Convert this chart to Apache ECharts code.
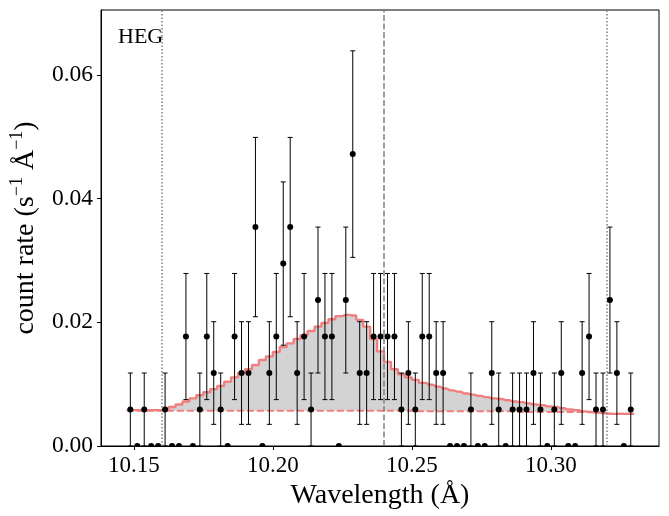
<!DOCTYPE html>
<html>
<head>
<meta charset="utf-8">
<script src="https://cdn.jsdelivr.net/npm/echarts@6.0.0/dist/echarts.min.js"></script>
<style>
  html, body { margin: 0; padding: 0; background: #fff; }
  #chart { width: 669px; height: 516px; }
</style>
</head>
<body>
<div id="chart"></div>
<script>
// bin centres (Å), 0.0025 Å bins
var wave = [
  10.14875, 10.15125, 10.15375, 10.15625, 10.15875, 10.16125, 10.16375, 10.16625, 10.16875, 10.17125,
  10.17375, 10.17625, 10.17875, 10.18125, 10.18375, 10.18625, 10.18875, 10.19125, 10.19375, 10.19625,
  10.19875, 10.20125, 10.20375, 10.20625, 10.20875, 10.21125, 10.21375, 10.21625, 10.21875, 10.22125,
  10.22375, 10.22625, 10.22875, 10.23125, 10.23375, 10.23625, 10.23875, 10.24125, 10.24375, 10.24625,
  10.24875, 10.25125, 10.25375, 10.25625, 10.25875, 10.26125, 10.26375, 10.26625, 10.26875, 10.27125,
  10.27375, 10.27625, 10.27875, 10.28125, 10.28375, 10.28625, 10.28875, 10.29125, 10.29375, 10.29625,
  10.29875, 10.30125, 10.30375, 10.30625, 10.30875, 10.31125, 10.31375, 10.31625, 10.31875, 10.32125,
  10.32375, 10.32625, 10.32875
];
var waveLo = 10.1475, waveHi = 10.33;

// measured count rate and 1-sigma error
var rate = [
  0.0059, 0, 0.0059, 0, 0, 0.0059, 0, 0, 0.0177, 0,
  0.0059, 0.0177, 0.0118, 0.0059, 0, 0.0177, 0.0118, 0.0118, 0.0354, 0,
  0.0118, 0.0177, 0.0295, 0.0354, 0.0118, 0.0177, 0.0059, 0.0236, 0.0177, 0.0177,
  0, 0.0236, 0.0472, 0.0118, 0.0118, 0.0177, 0.0177, 0.0177, 0.0177, 0.0059,
  0.0118, 0.0059, 0.0177, 0.0177, 0.0118, 0.0118, 0, 0, 0, 0.0059,
  0, 0, 0.0118, 0.0059, 0, 0.0059, 0.0059, 0.0059, 0.0118, 0.0059,
  0, 0.0059, 0.0118, 0, 0, 0.0118, 0.0177, 0.0059, 0.0059, 0.0236,
  0.0118, 0, 0.0059
];
var rateErr = [
  0.0059, 0, 0.0059, 0, 0, 0.0059, 0, 0, 0.0102, 0,
  0.0059, 0.0102, 0.0083, 0.0059, 0, 0.0102, 0.0083, 0.0083, 0.0145, 0,
  0.0083, 0.0102, 0.0132, 0.0145, 0.0083, 0.0102, 0.0059, 0.0118, 0.0102, 0.0102,
  0, 0.0118, 0.0167, 0.0083, 0.0083, 0.0102, 0.0102, 0.0102, 0.0102, 0.0059,
  0.0083, 0.0059, 0.0102, 0.0102, 0.0083, 0.0083, 0, 0, 0, 0.0059,
  0, 0, 0.0083, 0.0059, 0, 0.0059, 0.0059, 0.0059, 0.0083, 0.0059,
  0, 0.0059, 0.0083, 0, 0, 0.0083, 0.0102, 0.0059, 0.0059, 0.0118,
  0.0083, 0, 0.0059
];

// total model and continuum
var model = [
  0.0058, 0.0058, 0.0058, 0.0058, 0.0058, 0.0059, 0.0063, 0.0067, 0.0072, 0.0077,
  0.0082, 0.0087, 0.0092, 0.0097, 0.0104, 0.0111, 0.0118, 0.0124, 0.0131, 0.0139,
  0.0145, 0.0152, 0.0160, 0.0166, 0.0173, 0.0179, 0.0186, 0.0193, 0.0199, 0.0205,
  0.0210, 0.0212, 0.0211, 0.0204, 0.0193, 0.0173, 0.0153, 0.0136, 0.0124, 0.0116,
  0.0111, 0.0107, 0.0102, 0.0099, 0.0096, 0.0093, 0.0090, 0.0088, 0.0085, 0.0083,
  0.0081, 0.0079, 0.0077, 0.0076, 0.0074, 0.0072, 0.0071, 0.0069, 0.0067, 0.0066,
  0.0064, 0.0063, 0.0061, 0.0059, 0.0058, 0.0056, 0.0055, 0.0054, 0.0053, 0.0052,
  0.0052, 0.0052, 0.0052
];
var cont = [
  0.0057, 0.0057, 0.0057, 0.0057, 0.0057, 0.0057, 0.0057, 0.0057, 0.0057, 0.0057,
  0.0057, 0.0057, 0.0057, 0.0057, 0.0057, 0.0057, 0.0057, 0.0057, 0.0057, 0.0057,
  0.0057, 0.0057, 0.0057, 0.0057, 0.0057, 0.0057, 0.0057, 0.0057, 0.0057, 0.0057,
  0.0057, 0.0057, 0.0057, 0.0057, 0.0057, 0.0057, 0.0057, 0.0057, 0.0057, 0.0057,
  0.0057, 0.0056, 0.0056, 0.0056, 0.0056, 0.0056, 0.0056, 0.0056, 0.0056, 0.0056,
  0.0056, 0.0056, 0.0056, 0.0056, 0.0056, 0.0056, 0.0055, 0.0055, 0.0055, 0.0055,
  0.0055, 0.0055, 0.0055, 0.0055, 0.0055, 0.0055, 0.0055, 0.0054, 0.0053, 0.0052,
  0.0052, 0.0052, 0.0052
];

var lineCentre = 10.2385;
var velLimits = [10.1615, 10.3155];

var xTicks = [10.15, 10.20, 10.25, 10.30];
var yTicks = [0, 0.02, 0.04, 0.06];

var serif = 'Liberation Serif';

// step series need the outer bin edges as end points
function withEdges(vals) {
  var out = [[waveLo, vals[0]]];
  for (var i = 0; i < wave.length; i++) out.push([wave[i], vals[i]]);
  out.push([waveHi, vals[vals.length - 1]]);
  return out;
}
function leftEdge(i) { return i === 0 ? waveLo : (wave[i - 1] + wave[i]) / 2; }
function rightEdge(i) { return i === wave.length - 1 ? waveHi : (wave[i] + wave[i + 1]) / 2; }

// grey band between continuum and total model, stepped per bin
function renderFill(params, api) {
  var pts = [];
  var i;
  for (i = 0; i < wave.length; i++) {
    pts.push(api.coord([leftEdge(i), model[i]]));
    pts.push(api.coord([rightEdge(i), model[i]]));
  }
  for (i = wave.length - 1; i >= 0; i--) {
    pts.push(api.coord([rightEdge(i), cont[i]]));
    pts.push(api.coord([leftEdge(i), cont[i]]));
  }
  return { type: 'polygon', shape: { points: pts }, style: { fill: '#d3d3d3' } };
}

var points = wave.map(function (w, i) { return [w, rate[i], rateErr[i]]; });

function renderErr(params, api) {
  var x = api.value(0), y = api.value(1), e = api.value(2);
  var p = api.coord([x, y]);
  var kids = [];
  if (e > 0) {
    var t = api.coord([x, y + e]), b = api.coord([x, y - e]);
    var st = { stroke: '#000', lineWidth: 1 };
    kids.push({ type: 'line', shape: { x1: p[0], y1: t[1], x2: p[0], y2: b[1] }, style: st });
    kids.push({ type: 'line', shape: { x1: p[0] - 2.5, y1: t[1], x2: p[0] + 2.5, y2: t[1] }, style: st });
    kids.push({ type: 'line', shape: { x1: p[0] - 2.5, y1: b[1], x2: p[0] + 2.5, y2: b[1] }, style: st });
  }
  kids.push({ type: 'circle', shape: { cx: p[0], cy: p[1], r: 3 }, style: { fill: '#000' } });
  return { type: 'group', children: kids };
}

var chart = echarts.init(document.getElementById('chart'));

var option = {
  animation: false,
  backgroundColor: '#fff',
  grid: {
    left: 101, right: 10, top: 10, bottom: 70,
    show: true, borderColor: '#000', borderWidth: 1
  },
  xAxis: {
    type: 'value',
    min: 10.1382, max: 10.3389,
    name: 'Wavelength (Å)',
    nameLocation: 'middle',
    nameGap: 35,
    nameTextStyle: { fontFamily: serif, fontSize: 28, color: '#000' },
    axisLine: { show: true, lineStyle: { color: '#000', width: 1 } },
    axisTick: { show: true, length: 4, lineStyle: { color: '#000' }, customValues: xTicks },
    axisLabel: {
      customValues: xTicks, margin: 8,
      fontFamily: serif, fontSize: 23, color: '#000',
      formatter: function (v) { return v.toFixed(2); }
    },
    splitLine: { show: false }
  },
  yAxis: {
    type: 'value',
    min: 0, max: 0.0705,
    name: '{t|count rate (s}{s|−1}{t| Å}{s|−1}{t|)}',
    nameLocation: 'middle',
    nameGap: 57,
    nameRotate: 90,
    nameTextStyle: {
      fontFamily: serif, fontSize: 28, color: '#000',
      rich: {
        t: { fontFamily: serif, fontSize: 28, color: '#000', lineHeight: 36 },
        s: { fontFamily: serif, fontSize: 18, color: '#000', lineHeight: 16, verticalAlign: 'top' }
      }
    },
    axisLine: { show: true, lineStyle: { color: '#000', width: 1 } },
    axisTick: { show: true, length: 4, lineStyle: { color: '#000' }, customValues: yTicks },
    axisLabel: {
      customValues: yTicks, margin: 8,
      fontFamily: serif, fontSize: 23.5, color: '#000',
      formatter: function (v) { return v.toFixed(2); }
    },
    splitLine: { show: false }
  },
  graphic: [{
    type: 'text', left: 118, top: 26,
    style: { text: 'HEG', font: '22px "Liberation Serif"', fill: '#000' }
  }],
  series: [
    {
      name: 'fill', type: 'custom', renderItem: renderFill,
      data: [[wave[0], model[0]]], clip: true, silent: true, z: 1
    },
    {
      name: 'marks', type: 'line', data: [], z: 2,
      markLine: {
        silent: true, symbol: 'none', label: { show: false },
        data: [
          { xAxis: velLimits[0], lineStyle: { color: '#808080', type: [1.5, 2], width: 1.5 } },
          { xAxis: velLimits[1], lineStyle: { color: '#808080', type: [1.5, 2], width: 1.5 } },
          { xAxis: lineCentre, lineStyle: { color: '#808080', type: [6, 2.5], width: 1.5 } }
        ]
      }
    },
    {
      name: 'continuum', type: 'line', step: 'middle',
      data: withEdges(cont), symbol: 'none', silent: true,
      lineStyle: { color: '#f08080', width: 2, type: [7, 3] }, z: 3
    },
    {
      name: 'model', type: 'line', step: 'middle',
      data: withEdges(model), symbol: 'none', silent: true,
      lineStyle: { color: '#f08080', width: 2.4 }, z: 4
    },
    {
      name: 'data', type: 'custom', renderItem: renderErr,
      data: points, clip: true, z: 5
    }
  ]
};

chart.setOption(option);
</script>
</body>
</html>
